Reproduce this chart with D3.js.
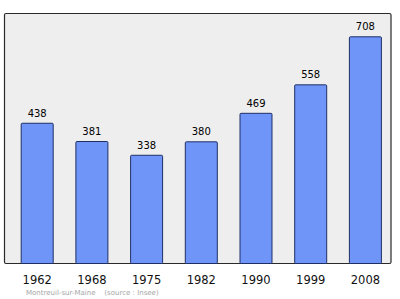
<!DOCTYPE html>
<html><head><meta charset="utf-8">
<script src="https://cdn.jsdelivr.net/npm/d3@7"></script>
<style>body{margin:0;background:#fff;}svg{display:block;}</style>
</head><body>
<script>
const years = ["1962","1968","1975","1982","1990","1999","2008"];
const population = [438,381,338,380,469,558,708];
const caption = "Montreuil-sur-Maine    (source : Insee)";

const W = 400, H = 299;
const svg = d3.select("body").append("svg").attr("width", W).attr("height", H);

// frame
svg.append("rect").attr("x", 4.5).attr("y", 13.5).attr("width", 386.5).attr("height", 250)
  .attr("rx", 1.5).attr("fill", "#eeeeee").attr("stroke", "#2a2a2a").attr("stroke-width", 1.2);

const x = d3.scaleBand().domain(years).range([9.35, 392.25]).paddingInner(0.415).paddingOuter(0.2075);
const y = d3.scaleLinear().domain([0, 708]).range([263, 36.3]);

const data = years.map((yr, i) => ({year: yr, v: population[i]}));

svg.selectAll("rect.bar").data(data).enter().append("rect").attr("class", "bar")
  .attr("x", d => x(d.year) + 0.5).attr("y", d => y(d.v) + 0.5)
  .attr("width", x.bandwidth()).attr("height", d => y(0) - y(d.v))
  .attr("rx", 1).attr("fill", "#6f95f8").attr("stroke", "#1f2f66").attr("stroke-width", 1);

svg.selectAll("text.val").data(data).enter().append("text").attr("class", "val")
  .attr("x", d => x(d.year) + x.bandwidth()/2 + 0.5).attr("y", d => y(d.v) - 6)
  .attr("text-anchor", "middle").attr("font-family", "DejaVu Sans, sans-serif")
  .attr("font-size", 10).attr("fill", "#000").text(d => d.v);

const xAxis = d3.axisBottom(x).tickSize(0).tickPadding(0);
const g = svg.append("g").attr("transform", "translate(0.5,284)").call(xAxis);
g.select(".domain").remove();
g.selectAll("text").attr("dy", 0).attr("font-family", "DejaVu Sans, sans-serif")
  .attr("font-size", 11.5).attr("fill", "#111");

svg.append("text").attr("x", 26).attr("y", 295).attr("font-family", "DejaVu Sans, sans-serif")
  .attr("font-size", 7).attr("fill", "#a6a6a6").attr("xml:space", "preserve").style("white-space", "pre")
  .text(caption);
</script>
</body></html>
